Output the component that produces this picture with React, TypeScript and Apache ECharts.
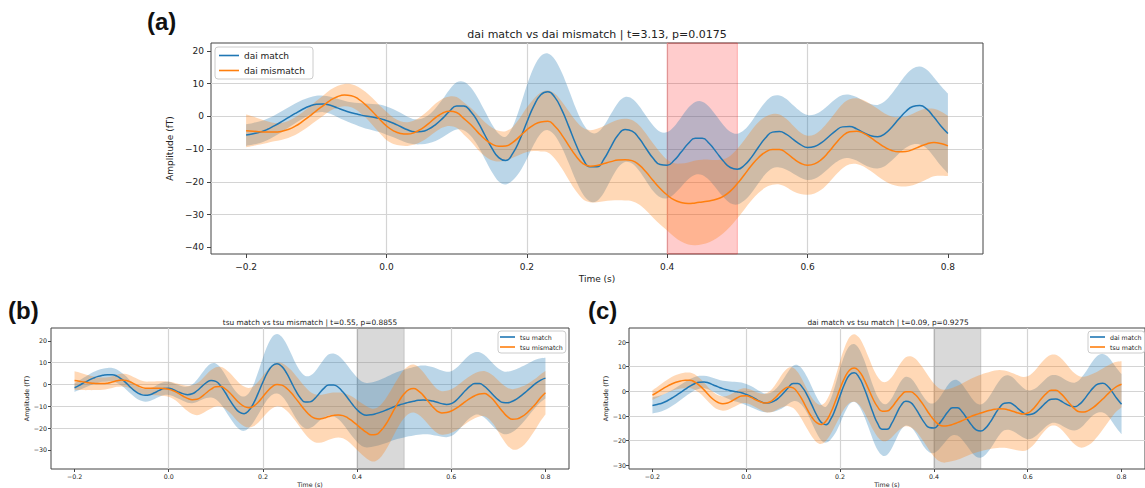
import React, { useEffect, useRef } from 'react';
import * as echarts from 'echarts';

// ---- data (time in s, amplitude in fT) ----
const TIMES = [
  -0.2, -0.19, -0.18, -0.17, -0.16, -0.15, -0.14, -0.13, -0.12, -0.11,
  -0.1, -0.09, -0.08, -0.07, -0.06, -0.05, -0.04, -0.03, -0.02, -0.01,
  0, 0.01, 0.02, 0.03, 0.04, 0.05, 0.06, 0.07, 0.08, 0.09,
  0.1, 0.11, 0.12, 0.13, 0.14, 0.15, 0.16, 0.17, 0.18, 0.19,
  0.2, 0.21, 0.22, 0.23, 0.24, 0.25, 0.26, 0.27, 0.28, 0.29,
  0.3, 0.31, 0.32, 0.33, 0.34, 0.35, 0.36, 0.37, 0.38, 0.39,
  0.4, 0.41, 0.42, 0.43, 0.44, 0.45, 0.46, 0.47, 0.48, 0.49,
  0.5, 0.51, 0.52, 0.53, 0.54, 0.55, 0.56, 0.57, 0.58, 0.59,
  0.6, 0.61, 0.62, 0.63, 0.64, 0.65, 0.66, 0.67, 0.68, 0.69,
  0.7, 0.71, 0.72, 0.73, 0.74, 0.75, 0.76, 0.77, 0.78, 0.79, 0.8,
];

const X_TICKS = [-0.2, 0, 0.2, 0.4, 0.6, 0.8];
const Y_TICKS_A = [-40, -30, -20, -10, 0, 10, 20];
const Y_TICKS_B = [-30, -20, -10, 0, 10, 20];
const Y_TICKS_C = [-30, -20, -10, 0, 10, 20];
const SPAN = [0.4, 0.5];

const TITLE_A = 'dai match vs dai mismatch | t=3.13, p=0.0175';
const TITLE_B = 'tsu match vs tsu mismatch | t=0.55, p=0.8855';
const TITLE_C = 'dai match vs tsu match | t=0.09, p=0.9275';

const DAI_MATCH_MEAN = [
  -5.7, -5.3, -4.8, -4.0, -2.9, -1.7, -0.4, 0.9, 2.1, 3.1,
  3.7, 3.8, 3.4, 2.6, 1.8, 1.1, 0.6, 0.1, -0.2, -0.6,
  -1.3, -2.1, -3.1, -4.1, -4.7, -4.6, -3.9, -2.5, -0.6, 1.6,
  3.2, 3.2, 1.5, -1.6, -5.6, -9.6, -12.6, -13.5, -11.3, -7.1,
  -1.8, 3.2, 6.6, 7.5, 5.8, 1.9, -3.2, -8.6, -13.0, -15.4,
  -15.4, -13.0, -9.2, -5.7, -4.0, -4.5, -6.7, -9.8, -12.8, -14.7,
  -14.9, -13.4, -10.9, -8.3, -6.7, -6.7, -8.3, -10.9, -13.6, -15.6,
  -16.1, -14.9, -12.5, -9.4, -6.6, -4.8, -4.6, -5.5, -7.1, -8.6,
  -9.5, -9.2, -8.0, -6.2, -4.4, -3.2, -3.1, -3.8, -5.0, -5.9,
  -6.2, -5.3, -3.3, -0.8, 1.5, 3.0, 3.3, 2.2, -0.2, -2.9, -5.2,
];
const DAI_MATCH_SEM = [
  3.3, 3.3, 3.3, 3.3, 3.2, 3.2, 3.1, 3.0, 2.9, 2.7,
  2.6, 2.5, 2.6, 2.8, 3.0, 3.2, 3.5, 3.8, 4.0, 4.2,
  4.3, 4.3, 4.2, 4.0, 3.8, 3.9, 4.3, 5.0, 5.8, 6.6,
  7.2, 7.4, 7.4, 7.3, 7.3, 7.3, 7.3, 7.3, 8.2, 9.8,
  11.2, 11.8, 11.8, 11.7, 11.6, 11.4, 11.2, 11.0, 10.8, 10.6,
  10.4, 10.2, 10.0, 9.9, 9.9, 9.9, 9.9, 9.9, 10.0, 10.0,
  10.1, 10.3, 10.6, 10.9, 11.1, 11.2, 11.2, 11.1, 11.0, 10.9,
  10.8, 10.8, 10.9, 11.0, 11.0, 11.0, 11.0, 10.8, 10.4, 10.1,
  9.9, 9.8, 9.7, 9.7, 9.7, 9.7, 9.7, 9.7, 9.7, 9.7,
  9.7, 9.9, 10.2, 10.6, 11.1, 11.6, 11.9, 12.0, 12.1, 12.2, 12.2,
];

const DAI_MISMATCH_MEAN = [
  -4.4, -4.5, -4.7, -4.8, -4.8, -4.6, -4.0, -3.0, -1.6, 0.0,
  1.7, 3.3, 4.9, 6.0, 6.5, 6.3, 5.3, 3.6, 1.5, -0.8,
  -2.9, -4.4, -5.2, -5.4, -4.9, -3.8, -2.2, -0.4, 1.0, 1.6,
  1.2, -0.6, -2.5, -4.8, -6.9, -8.4, -9.1, -9.0, -7.9, -6.1,
  -4.1, -2.6, -1.7, -1.5, -3.0, -5.7, -9.0, -12.1, -14.4, -15.2,
  -15.0, -14.4, -13.8, -13.3, -13.2, -13.5, -14.8, -17.0, -19.6, -22.0,
  -24.0, -25.5, -26.3, -26.6, -26.4, -26.1, -25.8, -25.3, -24.4, -22.8,
  -20.5, -17.8, -15.0, -12.6, -10.9, -10.1, -10.1, -11.2, -12.9, -14.3,
  -14.9, -14.5, -13.1, -10.9, -8.3, -6.0, -4.7, -4.5, -5.2, -6.5,
  -8.0, -9.4, -10.4, -10.8, -10.7, -10.1, -9.2, -8.4, -8.0, -8.3, -9.0,
];
const DAI_MISMATCH_SEM = [
  5.0, 4.5, 3.9, 3.3, 2.8, 2.6, 2.6, 2.7, 2.8, 2.9,
  3.0, 3.1, 3.2, 3.3, 3.4, 3.5, 3.7, 3.9, 4.1, 4.2,
  4.3, 4.0, 3.7, 3.6, 3.7, 3.9, 4.1, 4.3, 4.4, 4.5,
  4.7, 4.9, 5.1, 5.3, 5.2, 5.0, 4.7, 4.5, 4.7, 5.6,
  6.8, 8.0, 9.0, 9.5, 9.9, 10.2, 10.5, 10.7, 10.9, 11.0,
  11.2, 11.5, 11.9, 12.3, 12.5, 12.4, 12.1, 11.7, 11.3, 11.0,
  10.8, 11.2, 11.9, 12.5, 12.9, 12.9, 12.6, 12.0, 11.3, 10.8,
  10.6, 10.6, 10.7, 10.8, 10.8, 10.8, 10.7, 10.4, 10.0, 9.4,
  9.0, 9.0, 9.2, 9.4, 9.6, 9.8, 9.9, 10.0, 10.1, 10.2,
  10.3, 10.3, 10.4, 10.5, 10.7, 10.9, 11.0, 10.8, 10.3, 9.8, 9.2,
];

const TSU_MATCH_MEAN = [
  -1.5, -0.4, 0.8, 1.9, 2.9, 3.7, 4.2, 4.5, 4.5, 3.8,
  2.4, 0.6, -1.5, -3.3, -4.5, -5.0, -4.7, -3.8, -2.7, -1.9,
  -1.8, -2.4, -3.4, -4.2, -4.7, -4.3, -2.9, -1.0, 0.8, 1.8,
  1.4, -0.6, -3.7, -7.3, -10.5, -12.7, -13.4, -12.0, -8.7, -4.0,
  1.1, 5.6, 8.6, 9.5, 8.3, 5.3, 1.2, -3.0, -6.3, -8.1,
  -8.0, -6.5, -4.0, -1.7, -0.2, -0.2, -1.3, -3.5, -6.2, -9.1,
  -11.6, -13.4, -14.1, -13.9, -13.4, -12.7, -11.9, -11.0, -10.1, -9.4,
  -8.8, -8.2, -7.7, -7.3, -7.1, -7.2, -7.6, -8.2, -8.8, -9.2,
  -8.8, -7.4, -5.2, -2.8, -0.8, 0.4, 0.4, -0.8, -2.8, -5.1,
  -7.1, -8.3, -8.4, -7.7, -6.5, -4.9, -3.1, -1.2, 0.6, 2.0, 2.9,
];
const TSU_MATCH_SEM = [
  2.0, 2.2, 2.4, 2.6, 2.8, 2.9, 3.0, 3.1, 3.1, 3.1,
  3.0, 3.0, 2.9, 2.9, 2.9, 2.9, 2.9, 2.9, 3.0, 3.0,
  3.0, 3.0, 3.1, 3.3, 3.7, 4.3, 5.1, 6.0, 7.0, 7.8,
  8.2, 8.3, 8.2, 8.0, 7.9, 7.9, 7.9, 8.0, 8.6, 9.8,
  11.2, 12.4, 13.3, 13.7, 13.6, 13.3, 12.9, 12.5, 12.2, 12.0,
  12.0, 12.2, 12.7, 13.4, 14.0, 14.4, 14.6, 14.7, 14.8, 14.8,
  14.8, 14.8, 14.8, 14.8, 14.9, 15.0, 15.1, 15.2, 15.3, 15.4,
  15.5, 15.6, 15.7, 15.8, 15.8, 15.7, 15.6, 15.4, 15.2, 15.0,
  14.9, 14.8, 14.7, 14.6, 14.5, 14.4, 14.4, 14.4, 14.4, 14.4,
  14.4, 14.4, 14.3, 14.1, 13.7, 13.1, 12.4, 11.6, 10.8, 10.0, 9.3,
];

const TSU_MISMATCH_MEAN = [
  1.8, 1.5, 1.1, 0.8, 0.5, 0.4, 0.4, 0.6, 1.1, 1.7,
  2.0, 1.8, 1.0, -0.1, -1.1, -1.7, -1.8, -1.8, -1.8, -1.9,
  -2.2, -2.9, -4.0, -5.3, -6.4, -7.0, -6.8, -5.6, -3.8, -2.2,
  -1.1, -1.0, -2.0, -3.9, -6.3, -8.5, -10.1, -10.7, -10.0, -8.2,
  -5.6, -3.0, -1.0, 0.0, -0.3, -1.7, -3.8, -6.5, -9.3, -12.0,
  -14.2, -15.5, -15.8, -15.4, -14.7, -14.2, -14.0, -14.3, -15.3, -16.8,
  -18.6, -20.4, -22.0, -23.1, -23.0, -21.4, -18.6, -15.0, -11.0, -7.3,
  -4.3, -2.4, -1.9, -2.9, -4.9, -7.5, -10.1, -12.2, -13.1, -12.9,
  -12.2, -11.0, -9.5, -7.9, -6.4, -5.2, -4.4, -4.2, -5.2, -7.2,
  -10.0, -12.7, -14.9, -16.0, -15.8, -14.8, -13.2, -11.0, -8.7, -6.0, -3.8,
];
const TSU_MISMATCH_SEM = [
  4.2, 4.0, 3.7, 3.4, 3.1, 2.9, 2.8, 2.7, 2.7, 2.8,
  2.9, 3.0, 3.0, 3.0, 3.0, 3.0, 3.1, 3.2, 3.3, 3.4,
  3.5, 3.8, 4.3, 5.0, 5.8, 6.6, 7.3, 7.9, 8.4, 8.8,
  9.0, 9.1, 9.1, 9.1, 9.1, 9.1, 9.1, 9.1, 9.2, 9.4,
  9.6, 9.8, 9.9, 10.0, 10.1, 10.2, 10.4, 10.5, 10.7, 10.8,
  10.9, 11.0, 11.0, 10.9, 10.7, 10.5, 10.3, 10.4, 10.7, 11.1,
  11.5, 11.8, 12.0, 12.1, 12.1, 12.0, 11.8, 11.6, 11.4, 11.2,
  11.1, 11.0, 11.0, 10.9, 10.7, 10.5, 10.3, 10.1, 10.0, 10.0,
  10.0, 10.1, 10.2, 10.3, 10.3, 10.3, 10.3, 10.4, 10.6, 11.1,
  11.8, 12.6, 13.3, 13.8, 14.0, 13.8, 13.2, 12.4, 11.5, 10.7, 10.0,
];

// ---- styling ----
const FONT = '"DejaVu Sans", sans-serif';
const TXT = '#222';
const BLUE = '#1f77b4';
const ORANGE = '#ff7f0e';
const BLUE_FILL = 'rgba(31,119,180,0.3)';
const ORANGE_FILL = 'rgba(255,127,14,0.3)';

const minus = (s: string) => s.replace('-', '\u2212');

// Catmull-Rom -> cubic Bezier through screen points (rendering only)
function curve(pts: number[][], move: boolean) {
  let d = move ? `M${pts[0][0]},${pts[0][1]}` : '';
  for (let i = 0; i < pts.length - 1; i++) {
    const p0 = pts[i - 1] || pts[i];
    const p1 = pts[i];
    const p2 = pts[i + 1];
    const p3 = pts[i + 2] || p2;
    const c1x = p1[0] + (p2[0] - p0[0]) / 6;
    const c1y = p1[1] + (p2[1] - p0[1]) / 6;
    const c2x = p2[0] - (p3[0] - p1[0]) / 6;
    const c2y = p2[1] - (p3[1] - p1[1]) / 6;
    d += ` C${c1x},${c1y} ${c2x},${c2y} ${p2[0]},${p2[1]}`;
  }
  return d;
}

function bandSeries(key: string, idx: number, mean: number[], sem: number[], fill: string) {
  const data = TIMES.map((t, i) => [t, mean[i] - sem[i], mean[i] + sem[i]]);
  return {
    type: 'custom', name: key, xAxisIndex: idx, yAxisIndex: idx, silent: true, z: 2,
    encode: { x: 0, y: [1, 2] },
    data,
    renderItem: (params: any, api: any) => {
      if (params.dataIndex !== 0) return null;
      const up = data.map((p) => api.coord([p[0], p[2]]));
      const lo = data.map((p) => api.coord([p[0], p[1]])).reverse();
      const d = curve(up, true) + ` L${lo[0][0]},${lo[0][1]}` + curve(lo, false) + ' Z';
      return { type: 'path', shape: { pathData: d }, style: { fill, stroke: 'none' } };
    },
  };
}

function meanSeries(name: string, idx: number, mean: number[], color: string) {
  return {
    type: 'line', name, xAxisIndex: idx, yAxisIndex: idx,
    data: TIMES.map((t, i) => [t, mean[i]]),
    smooth: true, symbol: 'none', showSymbol: false, color,
    lineStyle: { color, width: 1.5 }, z: 3,
  };
}

function spanSeries(idx: number, color: string, border: string) {
  return {
    type: 'line', name: 'span' + idx, xAxisIndex: idx, yAxisIndex: idx, data: [], z: 1, silent: true,
    markArea: {
      silent: true,
      itemStyle: { color, borderColor: border, borderWidth: 1 },
      data: [[{ xAxis: SPAN[0] }, { xAxis: SPAN[1] }]],
    },
  };
}

function xAxis(idx: number, fs: number, margin: number, tick: number, nameGap: number) {
  return {
    gridIndex: idx, type: 'value', min: -0.25, max: 0.85, splitNumber: 5,
    minInterval: 0.2, maxInterval: 0.2,
    axisLine: { show: false, onZero: false },
    axisTick: { show: true, length: tick, lineStyle: { color: '#444' }, customValues: X_TICKS },
    axisLabel: {
      fontSize: fs, color: TXT, fontFamily: FONT, margin,
      showMinLabel: false, showMaxLabel: false,
      formatter: (v: number) => minus((Math.abs(v) < 1e-9 ? 0 : v).toFixed(1)),
    },
    splitLine: { show: true, showMinLine: false, showMaxLine: false, lineStyle: { color: '#d4d4d4', width: 1.2 } },
    name: 'Time (s)', nameLocation: 'middle', nameGap,
    nameTextStyle: { fontSize: fs, color: TXT, fontFamily: FONT },
  };
}

function yAxis(idx: number, min: number, max: number, ticks: number[], fs: number, margin: number, tick: number, nameGap: number) {
  return {
    gridIndex: idx, type: 'value', min, max, splitNumber: 6,
    minInterval: 10, maxInterval: 10,
    axisLine: { show: false, onZero: false },
    axisTick: { show: true, length: tick, lineStyle: { color: '#444' }, customValues: ticks },
    axisLabel: {
      fontSize: fs, color: TXT, fontFamily: FONT, margin,
      showMinLabel: false, showMaxLabel: false,
      formatter: (v: number) => minus(String(Math.round(v))),
    },
    splitLine: { show: true, showMinLine: false, showMaxLine: false, lineStyle: { color: '#d4d4d4', width: 1.2 } },
    name: 'Amplitude (fT)', nameLocation: 'middle', nameGap,
    nameTextStyle: { fontSize: fs, color: TXT, fontFamily: FONT },
  };
}

function legend(names: string[], left: number, top: number, fs: number, lh: number, iw: number, gap: number, padding: number[]) {
  return {
    data: names, orient: 'vertical', left, top, icon: 'rect',
    itemWidth: iw, itemHeight: 1.6, itemGap: gap, padding,
    backgroundColor: 'rgba(255,255,255,0.85)', borderColor: '#cccccc', borderWidth: 1, borderRadius: 3,
    textStyle: { fontSize: fs, lineHeight: lh, color: TXT, fontFamily: FONT },
    formatter: (n: string) => n.split('|')[1],
    selectedMode: false,
  };
}

const gridStyle = { show: true, borderColor: '#444', borderWidth: 1, backgroundColor: 'transparent' };
const textStyle = (size: number) => ({ font: `${size}px ${FONT}`, fill: TXT, textAlign: 'center', textVerticalAlign: 'middle', align: 'center', verticalAlign: 'middle' });
const labelStyle = { font: 'bold 24px "Liberation Sans", sans-serif', fill: '#111', textVerticalAlign: 'middle', verticalAlign: 'middle' };

const option: any = {
  animation: false,
  backgroundColor: '#ffffff',
  grid: [
    { ...gridStyle, left: 211, top: 43, width: 772, height: 211 },
    { ...gridStyle, left: 51, top: 328, width: 518, height: 142 },
    { ...gridStyle, left: 629, top: 328, width: 518, height: 142 },
  ],
  xAxis: [
    xAxis(0, 9, 8, 4, 20),
    xAxis(1, 6.3, 4, 3, 12),
    xAxis(2, 6.3, 4, 3, 12),
  ],
  yAxis: [
    yAxis(0, -42, 22.4, Y_TICKS_A, 9, 7, 4, 22),
    yAxis(1, -38.8, 25.9, Y_TICKS_B, 6.3, 4, 3, 21),
    yAxis(2, -31.5, 25.7, Y_TICKS_C, 6.3, 3, 3, 21),
  ],
  legend: [
    legend(['a|dai match', 'a|dai mismatch'], 215, 47, 9, 11, 20, 4, [3, 8, 3, 4]),
    legend(['b|tsu match', 'b|tsu mismatch'], 498, 331, 6.3, 8, 15, 2, [2, 3, 2, 2]),
    legend(['c|dai match', 'c|tsu match'], 1088, 331, 6.3, 8, 15, 2, [2, 3, 2, 2]),
  ],
  series: [
    spanSeries(0, 'rgba(255,0,0,0.2)', 'rgba(255,0,0,0.25)'),
    bandSeries('a-dm', 0, DAI_MATCH_MEAN, DAI_MATCH_SEM, BLUE_FILL),
    bandSeries('a-dmm', 0, DAI_MISMATCH_MEAN, DAI_MISMATCH_SEM, ORANGE_FILL),
    meanSeries('a|dai match', 0, DAI_MATCH_MEAN, BLUE),
    meanSeries('a|dai mismatch', 0, DAI_MISMATCH_MEAN, ORANGE),

    spanSeries(1, 'rgba(128,128,128,0.3)', 'rgba(128,128,128,0.3)'),
    bandSeries('b-tm', 1, TSU_MATCH_MEAN, TSU_MATCH_SEM, BLUE_FILL),
    bandSeries('b-tmm', 1, TSU_MISMATCH_MEAN, TSU_MISMATCH_SEM, ORANGE_FILL),
    meanSeries('b|tsu match', 1, TSU_MATCH_MEAN, BLUE),
    meanSeries('b|tsu mismatch', 1, TSU_MISMATCH_MEAN, ORANGE),

    spanSeries(2, 'rgba(128,128,128,0.3)', 'rgba(128,128,128,0.3)'),
    bandSeries('c-dm', 2, DAI_MATCH_MEAN, DAI_MATCH_SEM, BLUE_FILL),
    bandSeries('c-tm', 2, TSU_MATCH_MEAN, TSU_MATCH_SEM, ORANGE_FILL),
    meanSeries('c|dai match', 2, DAI_MATCH_MEAN, BLUE),
    meanSeries('c|tsu match', 2, TSU_MATCH_MEAN, ORANGE),
  ],
  graphic: [
    { type: 'text', x: 597, y: 34, style: { text: TITLE_A, ...textStyle(11) } },
    { type: 'text', x: 310, y: 322.4, style: { text: TITLE_B, ...textStyle(7.4) } },
    { type: 'text', x: 888, y: 322.4, style: { text: TITLE_C, ...textStyle(7.4) } },
    { type: 'text', x: 147, y: 21, style: { text: '(a)', ...labelStyle } },
    { type: 'text', x: 8, y: 310, style: { text: '(b)', ...labelStyle } },
    { type: 'text', x: 588, y: 310, style: { text: '(c)', ...labelStyle } },
  ],
};

export default function App() {
  const ref = useRef<HTMLDivElement>(null);
  useEffect(() => {
    if (!ref.current) return;
    const chart = echarts.init(ref.current, null, { renderer: 'svg' });
    chart.setOption(option);
    return () => chart.dispose();
  }, []);
  return (
    <div
      ref={ref}
      style={{ position: 'absolute', left: 0, top: 0, width: 1145, height: 488, background: '#fff' }}
    />
  );
}
